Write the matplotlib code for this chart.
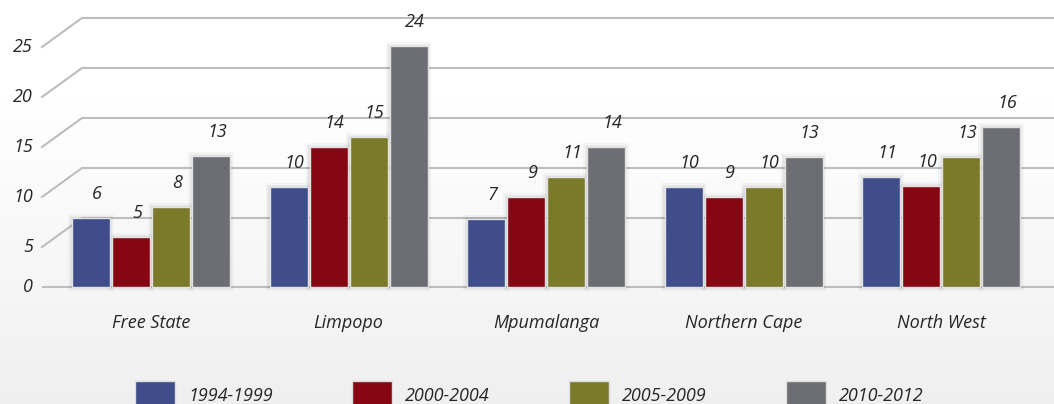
import numpy as np
import matplotlib.pyplot as plt
from matplotlib.patches import Rectangle

# Данные
provinces = ['Free State', 'Limpopo', 'Mpumalanga', 'Northern Cape', 'North West']
periods = ['1994-1999', '2000-2004', '2005-2009', '2010-2012']
heights = {
    '1994-1999': [6.9, 10.0, 6.8, 10.0, 11.0],
    '2000-2004': [5.0, 14.0, 9.0, 9.0, 10.1],
    '2005-2009': [8.0, 15.0, 11.0, 10.0, 13.0],
    '2010-2012': [13.1, 24.1, 14.0, 13.0, 16.0],
}
labels = {
    '1994-1999': ['6', '10', '7', '10', '11'],
    '2000-2004': ['5', '14', '9', '9', '10'],
    '2005-2009': ['8', '15', '11', '10', '13'],
    '2010-2012': ['13', '24', '14', '13', '16'],
}
yticks = [0, 5, 10, 15, 20, 25]
colors = ['#3f4d8a', '#880614', '#7b7a2b', '#6c6e73']

# Размеры в пикселях
W, H = 1054, 404
GROUP_PX = 197.5
FIRST_PX = 151
ZERO_ROW = 287
PX_Y = 10.0

def px(p):
    return (p - FIRST_PX) / GROUP_PX

def dx(p):
    return p / GROUP_PX

fig = plt.figure(figsize=(W / 100, H / 100), dpi=100)
ax = fig.add_axes([0, 0, 1, 1])
ax.set_xlim(px(0), px(W))
ax.set_ylim(-(H - ZERO_ROW) / PX_Y, ZERO_ROW / PX_Y)
ax.axis('off')

font = dict(family=['Open Sans', 'DejaVu Sans'], style='italic', color='#262626', fontsize=13)

# Фон - мягкий градиент (сверху белый)
g = np.linspace(0, 1, 200)
col = np.clip((g - 0.25) / 0.75, 0, 1)
shade = 1.0 - 0.06 * col
bg = np.repeat(shade[:, None], 2, axis=1)
bg = np.dstack([bg, bg, bg])
y0, y1 = ax.get_ylim()
ax.imshow(bg, extent=[px(0), px(W), y0, y1], origin='upper',
          aspect='auto', zorder=0, interpolation='bilinear')

# Сетка с перспективой
grid_c = '#bdbdbd'
for v in yticks:
    if v == 0:
        ax.plot([px(43), px(W)], [0, 0], color=grid_c, lw=1.5, zorder=1)
        ax.text(px(33), 0, '0', ha='right', va='center', **font)
        continue
    front = v - 1.0
    back = v + 1.9
    ax.plot([px(42), px(82), px(W)], [front, back, back], color=grid_c, lw=1.5, zorder=1)
    ax.text(px(33), front, str(v), ha='right', va='center', **font)

# Столбцы
x = np.arange(len(provinces))
bw = dx(38)
step = dx(40)
for j, p in enumerate(periods):
    xs = x + (j - 1.5) * step
    h = np.array(heights[p])
    # тень
    for k in range(1, 4):
        pad = dx(1.2 * k)
        ax.bar(xs, h + 0.12 * k * 2, width=bw + 2 * pad, bottom=-0.12 * k,
               color='black', alpha=0.03, lw=0, zorder=2)
    ax.bar(xs, h, width=bw, color=colors[j], edgecolor='#e2e2e2', lw=1.0, zorder=3)
    for xi, hi, lab in zip(xs, h, labels[p]):
        ax.text(xi + dx(6), hi + 2.4, lab, ha='center', va='center', zorder=4, **font)

# Подписи категорий
for xi, name in zip(x, provinces):
    ax.text(xi, -3.6, name, ha='center', va='center', **font)

# Легенда
for j, p in enumerate(periods):
    left = 135 + 217 * j
    ax.add_patch(Rectangle((px(left), (ZERO_ROW - 421) / PX_Y), dx(40), 4.0,
                           facecolor=colors[j], edgecolor='#dddddd', lw=1.0, zorder=3))
    ax.text(px(left + 53), (ZERO_ROW - 396) / PX_Y, p, ha='left', va='center', **font)

fig.savefig('out.png', dpi=100)
